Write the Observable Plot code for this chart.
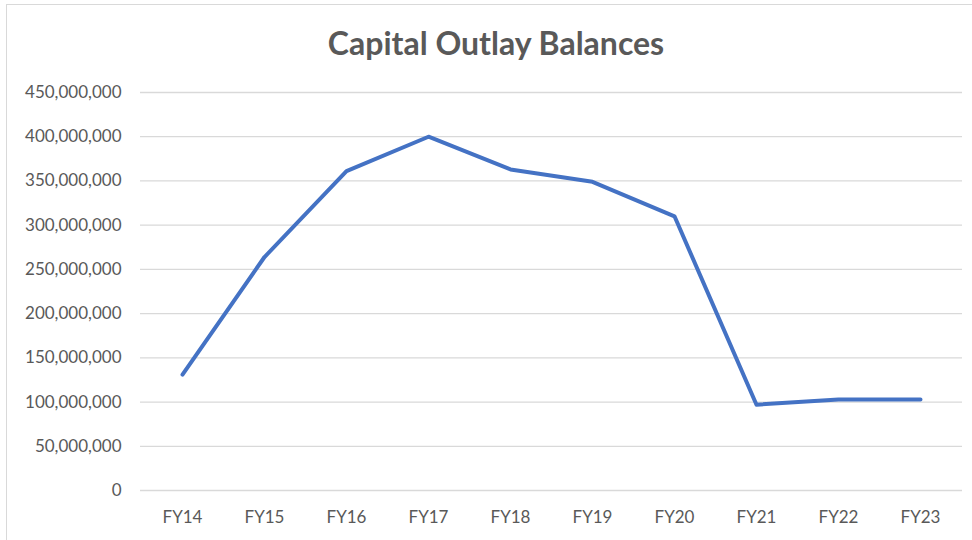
<!DOCTYPE html>
<html>
<head>
<meta charset="utf-8">
<script src="https://cdn.jsdelivr.net/npm/d3@7"></script>
<script src="https://cdn.jsdelivr.net/npm/@observablehq/plot@0.6"></script>
<style>
  html, body { margin: 0; padding: 0; background: #fff; }
  #wrap { position: relative; width: 972px; height: 540px; overflow: hidden; font-family: Lato, "Open Sans", sans-serif; }
  #frame { position: absolute; left: 6px; top: 4px; right: -2px; bottom: -2px; border-left: 1.5px solid #d9d9d9; border-top: 1.5px solid #d9d9d9; }
  #title { position: absolute; left: 20px; width: 952px; top: 27px; text-align: center; font-size: 32px; line-height: 1; font-weight: 700; color: #595959; }
  #chart { position: absolute; left: 0; top: 80px; }
</style>
</head>
<body>
<div id="wrap">
  <div id="frame"></div>
  <div id="title">Capital Outlay Balances</div>
  <div id="chart"></div>
</div>
<script>
const fiscalYears = ["FY14", "FY15", "FY16", "FY17", "FY18", "FY19", "FY20", "FY21", "FY22", "FY23"];
const balances = [131e6, 264e6, 361e6, 400e6, 363e6, 349e6, 310e6, 97e6, 103e6, 103e6];
const yTicks = [0, 50e6, 100e6, 150e6, 200e6, 250e6, 300e6, 350e6, 400e6, 450e6];

const data = fiscalYears.map((fy, i) => ({fy, value: balances[i]}));

const chart = Plot.plot({
  width: 972,
  height: 460,
  marginTop: 12,
  marginBottom: 50,
  marginLeft: 140,
  marginRight: 10,
  style: { fontFamily: "Lato, 'Open Sans', sans-serif", fontSize: "17px", color: "#595959", background: "transparent" },
  x: { type: "point", domain: fiscalYears, padding: 0.5 },
  y: { domain: [0, 450e6] },
  marks: [
    Plot.ruleY(yTicks, { stroke: "#d9d9d9", strokeWidth: 1.3 }),
    Plot.axisY({ ticks: yTicks, tickFormat: d3.format(","), tickSize: 0, tickPadding: 19, label: null, fill: "#595959", fontSize: 17 }),
    Plot.axisX({ tickSize: 0, tickPadding: 20, label: null, fill: "#595959", fontSize: 17 }),
    Plot.line(data, { x: "fy", y: "value", stroke: "#4472C4", strokeWidth: 4, strokeLinejoin: "round", strokeLinecap: "round" })
  ]
});
document.getElementById("chart").appendChild(chart);
</script>
</body>
</html>
